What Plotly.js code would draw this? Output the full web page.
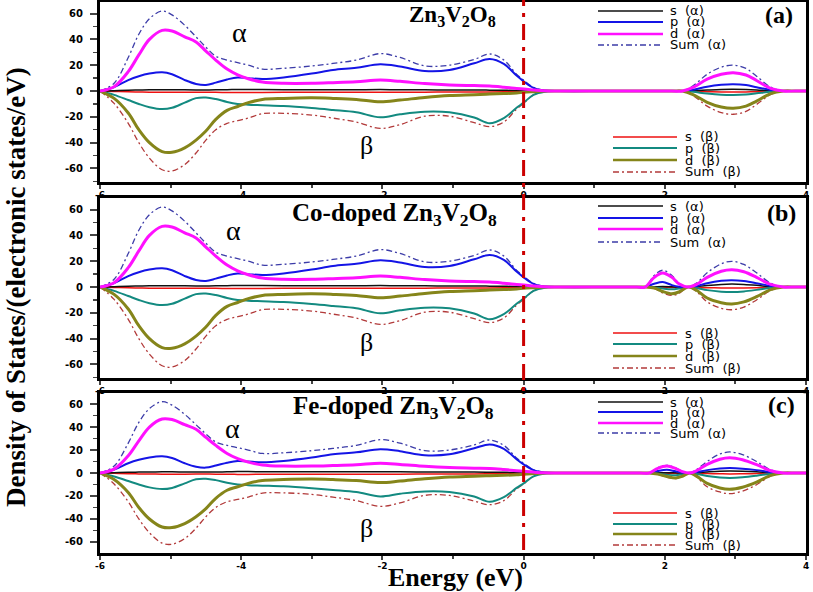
<!DOCTYPE html>
<html><head><meta charset="utf-8">
<script src="https://cdn.plot.ly/plotly-3.0.1.min.js"></script>
<style>html,body{margin:0;padding:0;background:#fff}</style>
</head><body><div id="chart" style="width:813px;height:592px"></div>
<script>
// ---------- DATA ----------
const xTickVals = [-6, -4, -2, 0, 2, 4];
const xTickText = ['-6', '-4', '-2', '0', '2', '4'];
const yTickVals = [-60, -40, -20, 0, 20, 40, 60];
const yTickText = ['-60', '-40', '-20', '0', '20', '40', '60'];

const panelTitles = ['Zn<sub>3</sub>V<sub>2</sub>O<sub>8</sub>',
  'Co-doped Zn<sub>3</sub>V<sub>2</sub>O<sub>8</sub>',
  'Fe-doped Zn<sub>3</sub>V<sub>2</sub>O<sub>8</sub>'];
const panelLetters = ['(a)', '(b)', '(c)'];
const seriesNames = ['s  (α)', 'p  (α)', 'd  (α)', 'Sum  (α)', 's  (β)', 'p  (β)', 'd  (β)', 'Sum  (β)'];

// valence band region (same in all three panels)
const energyVB = [-6, -5.8, -5.6, -5.45, -5.3, -5.12, -4.98, -4.8, -4.64, -4.5, -4.36, -4.2, -4.05, -3.9, -3.7, -3.4, -3.0, -2.7, -2.37, -2.03, -1.75, -1.4, -1.05, -0.7, -0.48, -0.28, -0.1, 0, 0.14, 0.3, 0.5];
const sAlphaVB = [0,0.3,0.6,0.8,0.9,1,1,0.9,0.8,0.8,0.9,1,1.2,1.2,1.1,1,1,1,1,1.1,1,0.9,0.8,0.8,0.7,0.6,0.4,0.3,0.1,0,0];
const pAlphaVB = [0,3,8.5,11.5,13.5,14.5,13,8.5,5.5,4.7,6.5,9,10.5,10,9.3,10.5,13.5,16.3,18,20.7,19,15.5,16.3,21.5,24.8,21,12,7.5,2.5,0.5,0];
const dAlphaVB = [0,3.4,15,28,40,47,46.5,42,38,31,24,17,12.5,9.5,7,6,6,6.5,7.2,8.5,7.5,5.8,4.7,4.2,3.9,3,2,1.5,0.8,0.2,0];
const sumAlphaVB = [0,6,26,44,56,62,59,51,42,34,27,24,22,20,17,17.6,19.4,21.4,24,29,26,19.5,20,24.5,28.7,24,13,8.5,2.8,0.5,0];
const sBetaVB = [0,-0.3,-0.6,-0.8,-0.9,-1,-1,-1,-0.9,-0.9,-1,-1.1,-1.2,-1.2,-1.1,-1,-1,-1,-1,-1,-1,-0.9,-0.8,-0.8,-0.7,-0.6,-0.4,-0.3,-0.1,0,0];
const pBetaVB = [0,-3,-7,-10,-12.5,-14,-13,-9,-5.5,-5,-6.2,-8.5,-10,-10.6,-11,-11.6,-13.2,-14.7,-16.5,-20.4,-18,-16,-16.5,-20.5,-25,-21,-13,-9,-3,-0.5,0];
const dBetaVB = [0,-5.7,-17,-30,-40,-47,-47.5,-44,-38,-31,-22,-15,-12,-9,-6.5,-5.7,-5.3,-5.7,-6.5,-8.3,-7,-5,-3.5,-2.8,-2.3,-2,-1.5,-1,-0.5,0,0];
const sumBetaVB = [0,-9.6,-25,-40,-52,-61,-62,-57,-48,-38,-30,-25,-23,-21,-17.5,-17.3,-18.6,-21,-24,-29,-26,-19.5,-19.5,-24.5,-27.6,-24,-14,-9.6,-3,-0.5,0];

// conduction band region, panel (a)
const energyCB_a = [1.2, 2.1, 2.25, 2.4, 2.6, 2.8, 2.97, 3.15, 3.3, 3.5, 3.68, 3.85, 4.0];
const sAlphaCB_a = [0,0,0,0.3,0.8,1.2,1.3,1.1,0.8,0.2,0,0,0];
const pAlphaCB_a = [0,0,0,1,3.4,4.8,5.2,4.6,3,0.8,0,0,0];
const dAlphaCB_a = [0,0,0,2.8,9.2,13,14.2,12.4,8.2,2.1,0,0,0];
const sumAlphaCB_a = [0,0,0,4,13,18.5,20,17.5,11.5,3,0,0,0];
const sBetaCB_a = [0,0,0,-0.2,-0.5,-0.7,-0.8,-0.7,-0.5,-0.1,0,0,0];
const pBetaCB_a = [0,0,0,-0.6,-2,-2.9,-3.1,-2.7,-1.8,-0.5,0,0,0];
const dBetaCB_a = [0,0,0,-2.7,-8.7,-12.4,-13.4,-11.7,-7.8,-2,0,0,0];
const sumBetaCB_a = [0,0,0,-3.6,-11.7,-16.7,-18,-15.8,-10.4,-2.7,0,0,0];

// conduction band region, panel (b) Co-doped
const energyCB_b = [1.2, 1.6, 1.72, 1.85, 1.97, 2.1, 2.2, 2.33, 2.45, 2.6, 2.8, 2.95, 3.12, 3.3, 3.5, 3.68, 3.85, 4.0];
const sAlphaCB_b = [0,0,0,0.2,0.4,0.2,0,0,0.4,1.2,2,2.3,2,1.3,0.3,0,0,0];
const pAlphaCB_b = [0,0,0,2.5,3.9,1.5,0.3,0,0.8,3,4.8,5.2,4.6,3,0.8,0,0,0];
const dAlphaCB_b = [0,0,0,7.5,10.9,7.5,2.5,0,2,7.5,12.2,13.4,11.8,7.5,2,0,0,0];
const sumAlphaCB_b = [0,0,0,9,13,9,3,0,3,11,18,19.9,17.5,11,3,0,0,0];
const sBetaCB_b = [0,0,0,0,-0.2,-0.3,-0.2,0,-0.2,-0.5,-0.7,-0.8,-0.7,-0.5,-0.1,0,0,0];
const pBetaCB_b = [0,0,0,-0.3,-1.2,-1.8,-1.2,0,-0.7,-2.4,-3.6,-3.9,-3.4,-2.2,-0.6,0,0,0];
const dBetaCB_b = [0,0,0,-0.8,-3.5,-5.2,-3.8,0,-2.5,-8.5,-12.2,-13.2,-11.5,-7.5,-2,0,0,0];
const sumBetaCB_b = [0,0,0,-1,-4.5,-6.5,-5,0,-3.5,-11.5,-16.5,-17.6,-15.5,-10,-2.7,0,0,0];

// conduction band region, panel (c) Fe-doped
const energyCB_c = [1.2, 1.65, 1.78, 1.9, 2.03, 2.15, 2.25, 2.35, 2.45, 2.6, 2.78, 2.92, 3.1, 3.3, 3.5, 3.68, 3.85, 4.0];
const sAlphaCB_c = [0,0,0,0.2,0.3,0.2,0,0,0.3,0.9,1.5,1.7,1.5,1,0.3,0,0,0];
const pAlphaCB_c = [0,0,0,1.8,2.9,1.5,0.3,0,0.8,2.5,3.9,4.3,3.8,2.5,0.7,0,0,0];
const dAlphaCB_c = [0,0,0,4,6,4,1.2,0,2,7.5,12,13.3,11.6,7.3,2,0,0,0];
const sumAlphaCB_c = [0,0,0,4.5,6.7,4.5,1.5,0,3,10,16.5,18.3,16,10,2.7,0,0,0];
const sBetaCB_c = [0,0,0,0,-0.2,-0.3,-0.2,0,-0.2,-0.5,-0.7,-0.8,-0.7,-0.5,-0.1,0,0,0];
const pBetaCB_c = [0,0,0,-0.5,-1.5,-2,-1.2,0,-0.8,-2.6,-3.9,-4.3,-3.8,-2.4,-0.6,0,0,0];
const dBetaCB_c = [0,0,0,-1,-3,-4.3,-2.8,0,-2.7,-9,-13,-14.2,-12.4,-8,-2.1,0,0,0];
const sumBetaCB_c = [0,0,0,-1.2,-3.6,-4.8,-3,0,-3.5,-12,-16.5,-18,-15.8,-10.2,-2.7,0,0,0];

const fermiLevel = 0;

// ---------- STYLE ----------
const W = 813, H = 592;
const M = {l: 100, r: 7, t: 2, b: 39};
const plotW = W - M.l - M.r, plotH = H - M.t - M.b;
const px = v => (v - M.l) / plotW;          // pixel x -> paper
const py = v => (H - M.b - v) / plotH;      // pixel y -> paper

// order: s a, p a, d a, sum a, s b, p b, d b, sum b
const styles = [
  {color: '#111111', width: 1.5},
  {color: '#1414e6', width: 2},
  {color: '#ff10ff', width: 3},
  {color: '#3c3ca8', width: 1.3, dash: '6px,3px,2px,3px'},
  {color: '#ee1111', width: 1.5},
  {color: '#138a80', width: 2},
  {color: '#85851a', width: 3},
  {color: '#b23a3a', width: 1.3, dash: '6px,3px,2px,3px'}
];
const drawOrder = [3, 7, 4, 0, 5, 1, 6, 2];

const VB = [sAlphaVB, pAlphaVB, dAlphaVB, sumAlphaVB, sBetaVB, pBetaVB, dBetaVB, sumBetaVB];
const panels = [
  {x: energyCB_a, cb: [sAlphaCB_a, pAlphaCB_a, dAlphaCB_a, sumAlphaCB_a, sBetaCB_a, pBetaCB_a, dBetaCB_a, sumBetaCB_a]},
  {x: energyCB_b, cb: [sAlphaCB_b, pAlphaCB_b, dAlphaCB_b, sumAlphaCB_b, sBetaCB_b, pBetaCB_b, dBetaCB_b, sumBetaCB_b]},
  {x: energyCB_c, cb: [sAlphaCB_c, pAlphaCB_c, dAlphaCB_c, sumAlphaCB_c, sBetaCB_c, pBetaCB_c, dBetaCB_c, sumBetaCB_c]}
];

const traces = [];
panels.forEach((p, k) => {
  const xs = energyVB.concat(p.x);
  drawOrder.forEach(i => {
    const st = styles[i];
    traces.push({
      type: 'scatter', mode: 'lines', name: seriesNames[i], showlegend: false,
      x: xs, y: VB[i].concat(p.cb[i]),
      xaxis: k === 0 ? 'x' : 'x' + (k + 1), yaxis: k === 0 ? 'y' : 'y' + (k + 1),
      line: {color: st.color, width: st.width, dash: st.dash || 'solid', shape: 'spline', smoothing: 1}
    });
  });
});

// panel pixel geometry (top, bottom) and y range
const panelBox = [
  {top: 2, bottom: 182, range: [-70.5, 69]},
  {top: 198, bottom: 378, range: [-70.5, 69]},
  {top: 393, bottom: 553, range: [-69.6, 69.6]}
];
const tickFont = {family: 'DejaVu Sans, Arial, sans-serif', size: 10, color: '#000', weight: 'bold'};
const xTickFont = {family: 'DejaVu Sans, Arial, sans-serif', size: 9, color: '#000', weight: 'bold'};

const layout = {
  width: W, height: H, margin: M, paper_bgcolor: '#fff', plot_bgcolor: 'rgba(0,0,0,0)',
  showlegend: false, shapes: [], annotations: []
};
panelBox.forEach((b, k) => {
  const xn = k === 0 ? 'xaxis' : 'xaxis' + (k + 1);
  const yn = k === 0 ? 'yaxis' : 'yaxis' + (k + 1);
  layout[xn] = {
    domain: [0, 1], anchor: k === 0 ? 'y' : 'y' + (k + 1), range: [-6, 4],
    tickvals: xTickVals, ticktext: xTickText, ticks: 'outside', ticklen: 4, tickwidth: 2,
    minor: {dtick: 1, tick0: -6, ticks: 'outside', ticklen: 3, tickwidth: 2},
    showline: true, linewidth: 3, linecolor: '#000', mirror: true,
    showgrid: false, zeroline: false, tickfont: xTickFont, ticklabelstandoff: -2, fixedrange: true
  };
  layout[yn] = {
    domain: [py(b.bottom), py(b.top)], anchor: k === 0 ? 'x' : 'x' + (k + 1), range: b.range,
    tickvals: yTickVals, ticktext: yTickText, ticks: 'outside', ticklen: 7, tickwidth: 2,
    minor: {dtick: 10, tick0: 0, ticks: 'outside', ticklen: 4, tickwidth: 1.5},
    showline: true, linewidth: 3, linecolor: '#000', mirror: true,
    showgrid: false, zeroline: false, tickfont: tickFont, ticklabelstandoff: 5, fixedrange: true
  };
});

// Fermi level line
layout.shapes.push({type: 'line', xref: 'x', yref: 'paper', x0: fermiLevel, x1: fermiLevel,
  y0: py(550), y1: py(0), line: {color: '#cc0000', width: 3, dash: '16px,7px,4px,7px'}, layer: 'above'});

const serif = 'Times New Roman, Liberation Serif, serif';
const titlePos = [{x: 452, y: 16}, {x: 394, y: 214}, {x: 393, y: 407}];
const titleSize = [23, 25, 25];
const letterPos = [{x: 779, y: 15}, {x: 781, y: 213}, {x: 781, y: 405}];
const alphaPos = [{x: 239, y: 33}, {x: 233, y: 230}, {x: 232, y: 428}];
const betaPos = [{x: 366, y: 145}, {x: 366, y: 342}, {x: 366, y: 528}];
const legA = [[11, 22, 34, 45], [206, 218, 229, 242], [402, 412, 423, 433]];
const legB = [[137, 148, 160, 172], [333, 344, 356, 368], [513, 524, 534, 545]];

function ann(text, x, y, font, extra) {
  return Object.assign({text: text, xref: 'paper', yref: 'paper', x: px(x), y: py(y),
    xanchor: 'center', yanchor: 'middle', showarrow: false, font: font}, extra || {});
}
const legFont = {family: 'DejaVu Sans, Arial, sans-serif', size: 13, color: '#000'};
const legExtra = {xanchor: 'left', align: 'left', borderpad: 0, width: 100};
for (let k = 0; k < 3; k++) {
  layout.annotations.push(ann(panelTitles[k], titlePos[k].x, titlePos[k].y, {family: serif, size: titleSize[k], color: '#000', weight: 'bold'}));
  layout.annotations.push(ann(panelLetters[k], letterPos[k].x, letterPos[k].y, {family: serif, size: 24, color: '#000', weight: 'bold'}));
  layout.annotations.push(ann('α', alphaPos[k].x, alphaPos[k].y, {family: serif, size: 28, color: '#000'}));
  layout.annotations.push(ann('β', betaPos[k].x, betaPos[k].y, {family: serif, size: 26, color: '#000'}));
  for (let j = 0; j < 4; j++) {
    // alpha legend
    const sa = styles[j];
    layout.shapes.push({type: 'line', xref: 'paper', yref: 'paper', x0: px(598), x1: px(663),
      y0: py(legA[k][j]), y1: py(legA[k][j]), line: {color: sa.color, width: Math.min(sa.width, 2.5), dash: sa.dash || 'solid'}});
    layout.annotations.push(ann(seriesNames[j], 669, legA[k][j], legFont, legExtra));
    // beta legend
    const sb = styles[j + 4];
    layout.shapes.push({type: 'line', xref: 'paper', yref: 'paper', x0: px(613), x1: px(677),
      y0: py(legB[k][j]), y1: py(legB[k][j]), line: {color: sb.color, width: Math.min(sb.width, 2.5), dash: sb.dash || 'solid'}});
    layout.annotations.push(ann(seriesNames[j + 4], 684, legB[k][j], legFont, legExtra));
  }
}
// axis titles
layout.annotations.push(ann('Density of States/(electronic states/eV)', 16, 287,
  {family: serif, size: 27, color: '#000', weight: 'bold'}, {textangle: -90}));
layout.annotations.push(ann('Energy (eV)', 455, 577,
  {family: serif, size: 26, color: '#000', weight: 'bold'}, {borderpad: 0}));

Plotly.newPlot('chart', traces, layout, {displayModeBar: false, staticPlot: true});
</script></body></html>
